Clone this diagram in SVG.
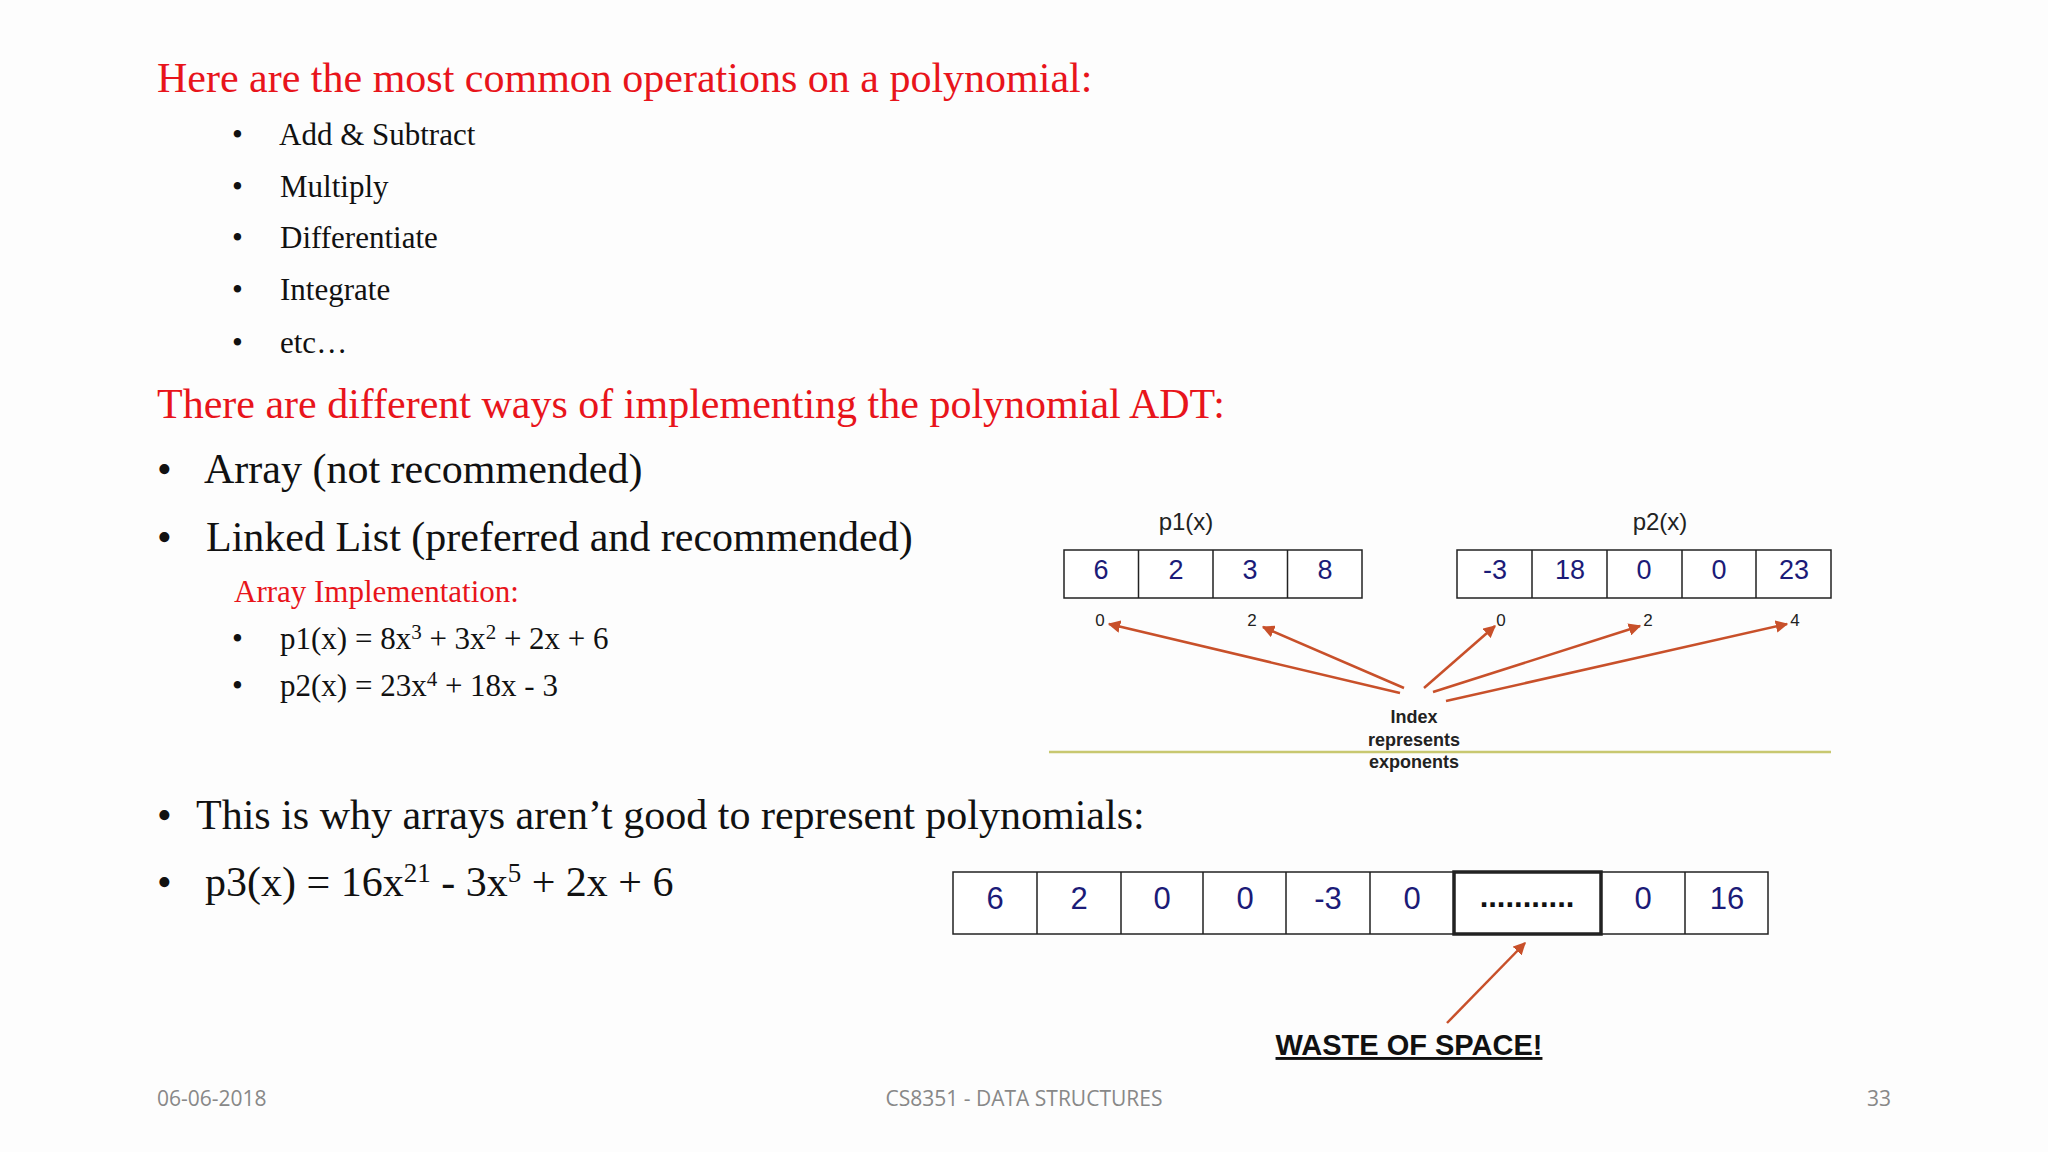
<svg xmlns="http://www.w3.org/2000/svg" width="2048" height="1152" viewBox="0 0 2048 1152">
<style>
.h{font-family:"Liberation Serif",serif;fill:#e8141b;font-size:42px}
.b{font-family:"Liberation Serif",serif;fill:#111;font-size:31px}
.bl{font-family:"Liberation Serif",serif;fill:#111;font-size:42px}
.n{font-family:"Liberation Sans",Arial,sans-serif;fill:#1b1b78;font-size:27px;text-anchor:middle}
.s{font-family:"Liberation Sans",Arial,sans-serif;fill:#222;text-anchor:middle}
.f{font-family:"Open Sans","Liberation Sans",sans-serif;fill:#888;font-size:21px}
.cell{fill:#fff;stroke:#222;stroke-width:1.5}
.arr{stroke:#c8502a;stroke-width:2.5;fill:none;marker-end:url(#ah)}
</style>
<defs><marker id="ah" viewBox="0 0 10 10" refX="9" refY="5" markerWidth="5" markerHeight="5" orient="auto"><path d="M0,0L10,5L0,10z" fill="#c8502a"/></marker></defs>
<rect width="2048" height="1152" fill="#fdfdfd"/>
<g id="text">
<text class="h" x="157" y="92">Here are the most common operations on a polynomial:</text>
<text class="b" x="232" y="145">•</text><text class="b" x="279" y="145">Add &amp; Subtract</text>
<text class="b" x="232" y="197">•</text><text class="b" x="280" y="197">Multiply</text>
<text class="b" x="232" y="248">•</text><text class="b" x="280" y="248">Differentiate</text>
<text class="b" x="232" y="300">•</text><text class="b" x="280" y="300">Integrate</text>
<text class="b" x="232" y="353">•</text><text class="b" x="280" y="353">etc…</text>
<text class="h" x="157" y="418">There are different ways of implementing the polynomial ADT:</text>
<text class="bl" x="157" y="483">•</text><text class="bl" x="204" y="483">Array (not recommended)</text>
<text class="bl" x="157" y="551">•</text><text class="bl" x="206" y="551">Linked List (preferred and recommended)</text>
<text class="h" x="234" y="602" style="font-size:31px">Array Implementation:</text>
<text class="b" x="232" y="649">•</text><text class="b" x="280" y="649">p1(x) = 8x<tspan dy="-10" font-size="21">3</tspan><tspan dy="10"> + 3x</tspan><tspan dy="-10" font-size="21">2</tspan><tspan dy="10"> + 2x + 6</tspan></text>
<text class="b" x="232" y="696">•</text><text class="b" x="280" y="696">p2(x) = 23x<tspan dy="-10" font-size="21">4</tspan><tspan dy="10"> + 18x - 3</tspan></text>
<text class="bl" x="157" y="829">•</text><text class="bl" x="196" y="829">This is why arrays aren’t good to represent polynomials:</text>
<text class="bl" x="157" y="896">•</text><text class="bl" x="205" y="896">p3(x) = 16x<tspan dy="-14" font-size="27">21</tspan><tspan dy="14"> - 3x</tspan><tspan dy="-14" font-size="27">5</tspan><tspan dy="14"> + 2x + 6</tspan></text>
<text class="f" x="157" y="1106">06-06-2018</text>
<text class="f" x="1024" y="1106" text-anchor="middle">CS8351 - DATA STRUCTURES</text>
<text class="f" x="1891" y="1106" text-anchor="end">33</text>
</g>
<g id="p1">
<text class="s" x="1186" y="530" font-size="24">p1(x)</text>
<rect class="cell" x="1064" y="550" width="298" height="48" stroke-width="3"/>
<path d="M1138.5,550V598M1213,550V598M1287.5,550V598" stroke="#222" stroke-width="1.5"/>
<text class="n" x="1101" y="579">6</text><text class="n" x="1176" y="579">2</text><text class="n" x="1250" y="579">3</text><text class="n" x="1325" y="579">8</text>
</g>
<g id="p2">
<text class="s" x="1660" y="530" font-size="24">p2(x)</text>
<rect class="cell" x="1457" y="550" width="374" height="48" stroke-width="3"/>
<path d="M1532,550V598M1607,550V598M1682,550V598M1756,550V598" stroke="#222" stroke-width="1.5"/>
<text class="n" x="1495" y="579">-3</text><text class="n" x="1570" y="579">18</text><text class="n" x="1644" y="579">0</text><text class="n" x="1719" y="579">0</text><text class="n" x="1794" y="579">23</text>
</g>
<g id="idx">
<text class="s" x="1100" y="626" font-size="17">0</text>
<text class="s" x="1252" y="626" font-size="17">2</text>
<text class="s" x="1501" y="626" font-size="17">0</text>
<text class="s" x="1648" y="626" font-size="17">2</text>
<text class="s" x="1795" y="626" font-size="17">4</text>
<text class="s" x="1414" y="723" font-size="18" font-weight="bold">Index</text>
<text class="s" x="1414" y="746" font-size="18" font-weight="bold">represents</text>
<text class="s" x="1414" y="768" font-size="18" font-weight="bold">exponents</text>
<line x1="1049" y1="752" x2="1831" y2="752" stroke="#c8c870" stroke-width="2.5"/>
</g>
<g id="p3">
<rect class="cell" x="953" y="872" width="815" height="62" stroke-width="3"/>
<path d="M1037,872V934M1121,872V934M1203,872V934M1286,872V934M1370,872V934M1685,872V934" stroke="#222" stroke-width="1.5"/>
<rect x="1454" y="872" width="147" height="62" fill="none" stroke="#222" stroke-width="3.5"/>
<g class="n" style="font-size:31px">
<text x="995" y="909">6</text><text x="1079" y="909">2</text><text x="1162" y="909">0</text><text x="1245" y="909">0</text><text x="1328" y="909">-3</text><text x="1412" y="909">0</text><text x="1527" y="907" style="fill:#111;font-weight:bold">...........</text><text x="1643" y="909">0</text><text x="1727" y="909">16</text>
</g>
<text class="s" x="1409" y="1055" font-size="29" font-weight="bold" style="fill:#111" text-decoration="underline">WASTE OF SPACE!</text>
</g>
<g id="connectors">
<line class="arr" x1="1400" y1="693" x2="1109" y2="624"/>
<line class="arr" x1="1404" y1="688" x2="1263" y2="627"/>
<line class="arr" x1="1424" y1="688" x2="1495" y2="626"/>
<line class="arr" x1="1433" y1="692" x2="1640" y2="626"/>
<line class="arr" x1="1446" y1="701" x2="1787" y2="624"/>
<line class="arr" x1="1447" y1="1023" x2="1525" y2="943"/>
</g>
</svg>
